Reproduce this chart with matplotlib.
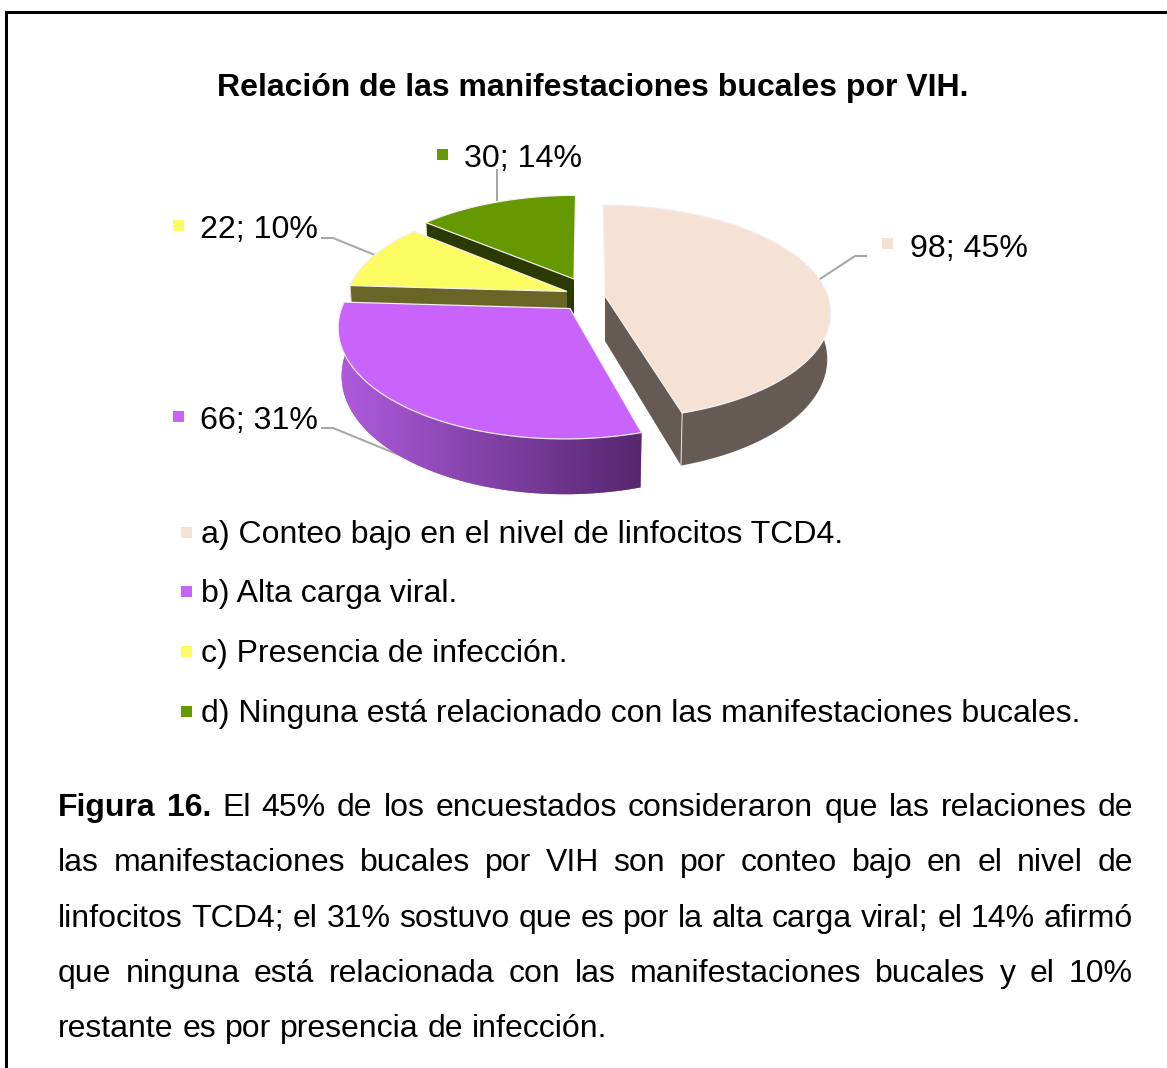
import numpy as np
import matplotlib
matplotlib.use("Agg")
import matplotlib.pyplot as plt
from matplotlib.patches import Polygon, Rectangle

plt.rcParams['font.family'] = ['Liberation Sans', 'DejaVu Sans']

title = "Relación de las manifestaciones bucales por VIH."
values = [98, 66, 22, 30]
percents = [45, 31, 10, 14]
legend_labels = [
    "a) Conteo bajo en el nivel de linfocitos TCD4.",
    "b) Alta carga viral.",
    "c) Presencia de infección.",
    "d) Ninguna está relacionado con las manifestaciones bucales.",
]
caption = [
    "Figura 16. El 45% de los encuestados consideraron que las relaciones de",
    "las manifestaciones bucales por VIH son por conteo bajo en el nivel de",
    "linfocitos TCD4; el 31% sostuvo que es por la alta carga viral; el 14% afirmó",
    "que ninguna está relacionada con las manifestaciones bucales y el 10%",
    "restante es por presencia de infección.",
]

# slice styling, same order as values
top_colors = ['#F6E2D5', '#C864FB', '#FCFC62', '#669900']
side_colors = ['#655B54', '#A655D6', '#686527', '#2A3A00']
tips = [(605, 296), (570, 308.5), (567, 291.5), (574, 279)]
scales = [(0.96, 1.0), (0.985, 1.06), (0.945, 0.98), (0.92, 0.92)]
skews = [0.022, -0.04, 0, -0.018]  # perspective lean of each slice
depths = [45, 47, 46, 46]
cuts = ['end', None, 'start', 'start']  # which cut face can be seen

# label positions (text x, baseline, marker x, marker y)
label_pos = [(909.5, 257, 882, 238), (199.5, 429, 173, 411), (199.5, 238, 173, 220), (464.5, 167, 437, 149)]
leaders = [
    [(820, 279), (855, 256), (866, 256)],
    [(322, 428), (333, 428), (409, 459)],
    [(322, 238), (333, 238), (375, 255)],
    [(497, 170), (497, 200)],
]
legend_base = [543, 602, 662, 722]
caption_base = [816, 871, 927, 982, 1037]

RX, RY, K = 232, 104.6, 0.15
PX = 100 / 72  # pixels per point at dpi 100


def rim(i, ang):
    a = np.radians(ang)
    X, Y = np.sin(a), np.cos(a)
    w = 1 + K * Y
    dy = -RY * scales[i][1] * Y / w
    x = tips[i][0] + RX * scales[i][0] * X / w + skews[i] * dy
    y = tips[i][1] + dy
    return np.column_stack([x, y]), w


def lower(i, pts, w):
    out = pts.copy()
    out[:, 0] = tips[i][0] + (pts[:, 0] - tips[i][0]) * 0.985
    out[:, 1] = pts[:, 1] + depths[i] / w
    return out


fig = plt.figure(figsize=(11.67, 10.68), dpi=100)
ax = fig.add_axes([0, 0, 1, 1])
ax.set_xlim(0, 1167)
ax.set_ylim(1068, 0)
ax.axis('off')

# frame, only left and top show in the crop
ax.plot([6.2, 6.2, 1167], [1068, 11.5, 11.5], color='black', lw=3 / PX, solid_joinstyle='miter')

ax.text(592.5, 96, title, fontsize=32 / PX, fontweight='bold', ha='center', va='baseline')

fracs = np.array(values) / sum(values)
edges = np.concatenate([[0], np.cumsum(fracs)]) * 360

# back to front
for i in [3, 2, 1, 0]:
    angs = np.linspace(edges[i], edges[i + 1], 80)
    top, w = rim(i, angs)
    bot = lower(i, top, w)
    tip = np.array([tips[i]])
    tip_low = tip + [0, depths[i]]

    # outer wall, the far part of the rim is hidden anyway
    front = np.cos(np.radians(angs)) < 0.5
    if front.sum() > 1:
        wall = Polygon(np.vstack([top[front], bot[front][::-1]]), closed=True, fc=side_colors[i], ec='none',
                       zorder=2 + (3 - i))
        ax.add_patch(wall)
        if i == 1:
            # the purple wall darkens to the right
            n = 256
            c0 = np.array(matplotlib.colors.to_rgb('#AE5BDC'))
            c1 = np.array(matplotlib.colors.to_rgb('#55266E'))
            grad = np.linspace(0, 1, n)[None, :, None] * (c1 - c0) + c0
            im = ax.imshow(grad, extent=[340, 645, 1068, 0], aspect='auto', zorder=2 + (3 - i))
            im.set_clip_path(wall)
            ax.set_xlim(0, 1167)
            ax.set_ylim(1068, 0)
    if cuts[i] is not None:
        j = -1 if cuts[i] == 'end' else 0
        face = [tip[0], top[j], bot[j], tip_low[0]]
        ax.add_patch(Polygon(face, closed=True, fc=side_colors[i], ec='none', zorder=2 + (3 - i)))
        ax.plot([top[j][0], bot[j][0]], [top[j][1], bot[j][1]], color='#E8E4E0', lw=1 / PX, zorder=2.1 + (3 - i))
    ax.add_patch(Polygon(np.vstack([tip, top]), closed=True, fc=top_colors[i], ec='#F4F0F4', lw=1.2 / PX,
                         zorder=2.2 + (3 - i)))

# data labels and leader lines
for i in range(4):
    tx, ty, mx, my = label_pos[i]
    ax.text(tx, ty, f"{values[i]}; {percents[i]}%", fontsize=32.2 / PX, va='baseline', ha='left')
    ax.add_patch(Rectangle((mx, my), 11, 11, fc=top_colors[i], ec='none'))
    xs, ys = zip(*leaders[i])
    ax.plot(xs, ys, color='#A6A6A6', lw=2 / PX, zorder=1)

# legend
for i in range(4):
    ax.add_patch(Rectangle((181, legend_base[i] - 16), 11, 11, fc=top_colors[i], ec='none'))
    ax.text(201, legend_base[i], legend_labels[i], fontsize=32.07 / PX, va='baseline', ha='left')

# caption, justified by hand
renderer = fig.canvas.get_renderer()
cap_px = 32
L, R = 58, 1133
for n, line in enumerate(caption):
    words = line.split(' ')
    items = []
    for k, word in enumerate(words):
        weight = 'bold' if n == 0 and k < 2 else 'normal'
        items.append(ax.text(0, caption_base[n], word, fontsize=cap_px / PX, fontweight=weight,
                             va='baseline', ha='left'))
    widths = [t.get_window_extent(renderer).width for t in items]
    if n < len(caption) - 1:
        gap = (R - L - sum(widths)) / (len(words) - 1)
    else:
        gap = 0.278 * cap_px
    x = L
    for t, wd in zip(items, widths):
        t.set_x(x)
        x += wd + gap

fig.savefig('out.png', dpi=100)
